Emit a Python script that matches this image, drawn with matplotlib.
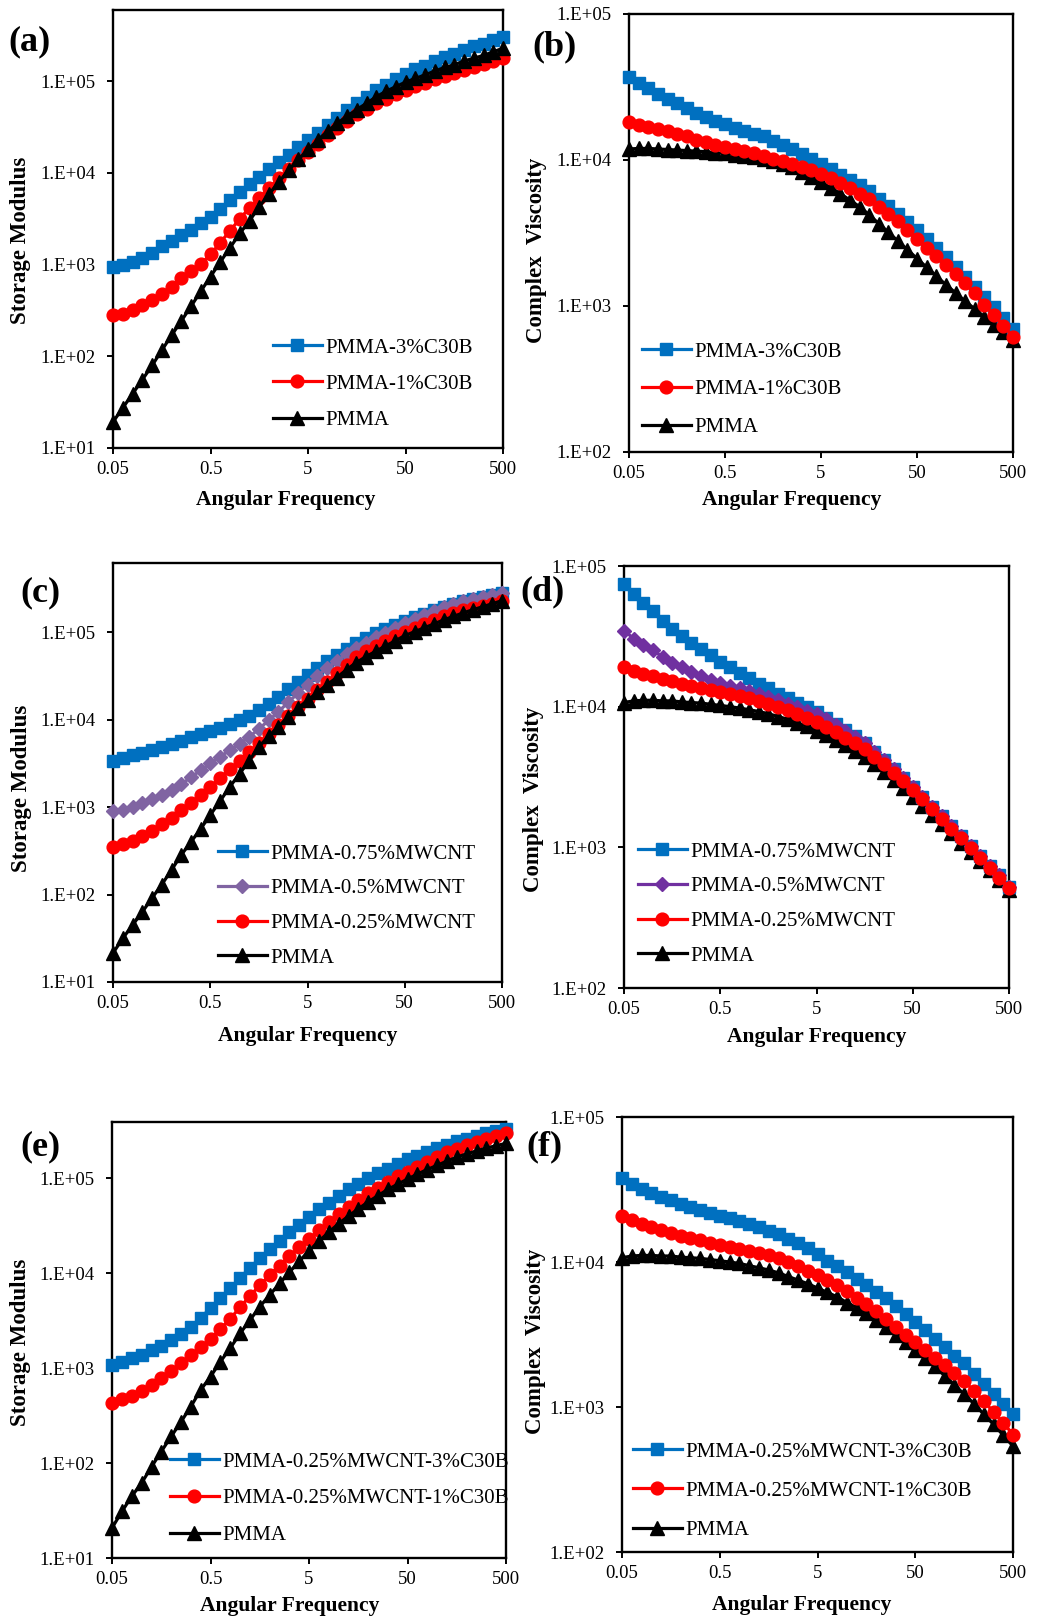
import numpy as np
import matplotlib
matplotlib.use("Agg")
import matplotlib.pyplot as plt
from matplotlib.ticker import FixedLocator, FuncFormatter, NullLocator

plt.rcParams['font.family'] = 'Liberation Serif'

# angular frequency grid (rad/s), 10 points per decade
freq = [0.05, 0.0631, 0.0794, 0.1, 0.126, 0.158, 0.2, 0.251, 0.316, 0.398,
        0.501, 0.631, 0.794, 1.0, 1.26, 1.58, 2.0, 2.51, 3.16, 3.98,
        5.01, 6.31, 7.94, 10.0, 12.6, 15.8, 20.0, 25.1, 31.6, 39.8,
        50.1, 63.1, 79.4, 100, 126, 158, 200, 251, 316, 398, 500]

# (a) storage modulus, clay
a_c30b3 = [940, 1000, 1070, 1170, 1350, 1580, 1820, 2090, 2400, 2820, 3310, 4070, 5010, 6170, 7590, 9120,
           1.10e4, 1.32e4, 1.58e4, 1.91e4, 2.29e4, 2.75e4, 3.31e4, 3.98e4, 4.79e4, 5.75e4, 6.76e4, 7.94e4,
           9.12e4, 1.05e5, 1.20e5, 1.35e5, 1.48e5, 1.66e5, 1.82e5, 2.00e5, 2.19e5, 2.40e5, 2.57e5, 2.82e5, 3.02e5]
a_c30b1 = [280, 292, 316, 359, 407, 479, 575, 708, 851, 1020, 1290, 1740, 2340, 3160, 4170, 5370, 6920, 8710,
           1.10e4, 1.38e4, 1.70e4, 2.09e4, 2.57e4, 3.09e4, 3.72e4, 4.37e4, 5.01e4, 5.75e4, 6.46e4, 7.24e4,
           8.04e4, 8.81e4, 9.66e4, 1.05e5, 1.14e5, 1.23e5, 1.32e5, 1.41e5, 1.53e5, 1.66e5, 1.80e5]
a_pmma = [19.2, 27.5, 38.9, 55.6, 79.4, 116, 170, 243, 351, 513, 741, 1070, 1530, 2190, 3020, 4270, 5890, 7940,
          1.07e4, 1.40e4, 1.80e4, 2.29e4, 2.85e4, 3.47e4, 4.17e4, 4.90e4, 5.75e4, 6.76e4, 7.76e4, 8.71e4,
          9.77e4, 1.07e5, 1.17e5, 1.29e5, 1.41e5, 1.51e5, 1.66e5, 1.78e5, 1.91e5, 2.09e5, 2.29e5]

# (b) complex viscosity, clay
b_c30b3 = [3.68e4, 3.35e4, 3.09e4, 2.85e4, 2.63e4, 2.45e4, 2.26e4, 2.11e4, 1.97e4, 1.86e4, 1.76e4, 1.66e4,
           1.58e4, 1.51e4, 1.45e4, 1.36e4, 1.27e4, 1.19e4, 1.10e4, 1.01e4, 9330, 8610, 7940, 7330, 6760, 6100,
           5430, 4840, 4270, 3760, 3310, 2880, 2510, 2160, 1860, 1580, 1350, 1150, 977, 822, 692]
b_c30b1 = [1.81e4, 1.74e4, 1.68e4, 1.62e4, 1.57e4, 1.51e4, 1.45e4, 1.38e4, 1.33e4, 1.27e4, 1.23e4, 1.19e4,
           1.15e4, 1.11e4, 1.07e4, 1.02e4, 9770, 9330, 8910, 8510, 8040, 7500, 7000, 6460, 5890, 5370, 4790,
           4270, 3800, 3310, 2880, 2510, 2190, 1910, 1660, 1430, 1220, 1020, 871, 733, 617]
b_pmma = [1.19e4, 1.20e4, 1.20e4, 1.19e4, 1.18e4, 1.17e4, 1.16e4, 1.15e4, 1.14e4, 1.12e4, 1.11e4, 1.09e4,
          1.07e4, 1.05e4, 1.02e4, 9890, 9440, 8910, 8320, 7670, 7080, 6460, 5890, 5310, 4790, 4220, 3670,
          3200, 2790, 2430, 2110, 1840, 1600, 1400, 1230, 1080, 955, 841, 741, 661, 589]

# (c) storage modulus, MWCNT
c_mw075 = [3390, 3630, 3890, 4170, 4520, 4900, 5310, 5750, 6240, 6760, 7330, 8040, 8810, 9770, 1.10e4, 1.27e4,
           1.51e4, 1.82e4, 2.21e4, 2.69e4, 3.24e4, 3.89e4, 4.62e4, 5.50e4, 6.46e4, 7.41e4, 8.51e4, 9.66e4,
           1.08e5, 1.22e5, 1.35e5, 1.48e5, 1.62e5, 1.78e5, 1.95e5, 2.11e5, 2.26e5, 2.40e5, 2.54e5, 2.66e5, 2.79e5]
c_mw05 = [908, 933, 1000, 1100, 1230, 1380, 1570, 1820, 2190, 2630, 3160, 3760, 4470, 5310, 6310, 7850, 9770,
          1.23e4, 1.57e4, 2.00e4, 2.51e4, 3.16e4, 3.89e4, 4.68e4, 5.56e4, 6.53e4, 7.59e4, 8.71e4, 9.89e4,
          1.12e5, 1.26e5, 1.41e5, 1.57e5, 1.74e5, 1.93e5, 2.11e5, 2.26e5, 2.40e5, 2.54e5, 2.66e5, 2.79e5]
c_mw025 = [353, 378, 413, 468, 537, 640, 759, 923, 1120, 1380, 1700, 2140, 2690, 3390, 4270, 5370, 6840, 8610,
           1.10e4, 1.38e4, 1.74e4, 2.16e4, 2.69e4, 3.39e4, 4.22e4, 5.19e4, 6.03e4, 6.92e4, 7.85e4, 8.91e4,
           1.00e5, 1.11e5, 1.23e5, 1.36e5, 1.51e5, 1.66e5, 1.78e5, 1.88e5, 2.00e5, 2.11e5, 2.24e5]
c_pmma = [21.4, 31.6, 44.7, 63.1, 91.2, 129, 191, 282, 398, 562, 813, 1170, 1700, 2400, 3390, 4900, 6460, 8320,
          1.07e4, 1.35e4, 1.66e4, 2.04e4, 2.51e4, 3.02e4, 3.72e4, 4.47e4, 5.25e4, 6.03e4, 6.92e4, 7.94e4,
          9.12e4, 1.01e5, 1.12e5, 1.24e5, 1.38e5, 1.51e5, 1.66e5, 1.80e5, 1.95e5, 2.11e5, 2.29e5]

# (d) complex viscosity, MWCNT
d_mw075 = [7.50e4, 6.31e4, 5.50e4, 4.79e4, 4.07e4, 3.55e4, 3.16e4, 2.82e4, 2.57e4, 2.32e4, 2.09e4, 1.91e4,
           1.74e4, 1.60e4, 1.46e4, 1.35e4, 1.24e4, 1.15e4, 1.07e4, 9890, 9120, 8320, 7590, 6840, 6170, 5500,
           4790, 4170, 3630, 3130, 2690, 2290, 1950, 1660, 1410, 1200, 1020, 871, 741, 631, 520]
d_mw05 = [3.47e4, 3.05e4, 2.74e4, 2.51e4, 2.26e4, 2.04e4, 1.92e4, 1.77e4, 1.65e4, 1.56e4, 1.48e4, 1.41e4,
          1.35e4, 1.29e4, 1.23e4, 1.17e4, 1.11e4, 1.05e4, 9890, 9330, 8810, 8130, 7410, 6760, 6100, 5500,
          4790, 4170, 3630, 3130, 2690, 2290, 1950, 1660, 1410, 1200, 1020, 871, 741, 631, 520]
d_mw025 = [1.92e4, 1.80e4, 1.72e4, 1.64e4, 1.57e4, 1.51e4, 1.46e4, 1.41e4, 1.36e4, 1.32e4, 1.27e4, 1.23e4,
           1.19e4, 1.15e4, 1.10e4, 1.05e4, 1.00e4, 9440, 8910, 8320, 7760, 7160, 6610, 6030, 5500, 5010,
           4420, 3890, 3390, 2950, 2570, 2190, 1860, 1600, 1360, 1160, 989, 841, 716, 610, 510]
d_pmma = [1.07e4, 1.10e4, 1.11e4, 1.11e4, 1.10e4, 1.10e4, 1.08e4, 1.07e4, 1.06e4, 1.04e4, 1.02e4, 1.00e4,
          9770, 9510, 9230, 8910, 8510, 8130, 7670, 7240, 6760, 6240, 5750, 5310, 4840, 4420, 3890, 3430,
          3020, 2630, 2290, 1970, 1700, 1460, 1260, 1070, 923, 794, 692, 590, 500]

# (e) storage modulus, hybrid
e_mix3 = [1070, 1170, 1260, 1380, 1530, 1720, 1970, 2290, 2720, 3390, 4270, 5430, 6920, 8910, 1.14e4, 1.43e4,
          1.78e4, 2.19e4, 2.69e4, 3.24e4, 3.89e4, 4.68e4, 5.50e4, 6.46e4, 7.59e4, 8.71e4, 1.00e5, 1.12e5,
          1.26e5, 1.41e5, 1.57e5, 1.72e5, 1.88e5, 2.07e5, 2.24e5, 2.43e5, 2.60e5, 2.79e5, 2.95e5, 3.13e5, 3.31e5]
e_mix1 = [427, 468, 508, 575, 661, 776, 933, 1120, 1360, 1660, 2040, 2570, 3310, 4370, 5750, 7410, 9550,
          1.20e4, 1.51e4, 1.86e4, 2.29e4, 2.82e4, 3.47e4, 4.17e4, 5.01e4, 5.89e4, 6.92e4, 7.94e4, 9.12e4,
          1.04e5, 1.17e5, 1.32e5, 1.48e5, 1.66e5, 1.86e5, 2.04e5, 2.21e5, 2.40e5, 2.57e5, 2.75e5, 2.95e5]
e_pmma = [20.7, 30.9, 44.7, 61.7, 91.2, 132, 191, 272, 393, 589, 813, 1170, 1620, 2320, 3200, 4420, 5890, 7760,
          1.02e4, 1.33e4, 1.72e4, 2.16e4, 2.69e4, 3.31e4, 3.98e4, 4.73e4, 5.62e4, 6.53e4, 7.59e4, 8.61e4,
          9.77e4, 1.10e5, 1.23e5, 1.36e5, 1.51e5, 1.66e5, 1.80e5, 1.93e5, 2.07e5, 2.19e5, 2.32e5]

# (f) complex viscosity, hybrid
f_mix3 = [3.78e4, 3.47e4, 3.20e4, 2.99e4, 2.82e4, 2.66e4, 2.51e4, 2.40e4, 2.29e4, 2.19e4, 2.09e4, 2.00e4,
          1.91e4, 1.82e4, 1.74e4, 1.64e4, 1.55e4, 1.45e4, 1.35e4, 1.24e4, 1.14e4, 1.02e4, 9330, 8510, 7670,
          6920, 6240, 5620, 4960, 4370, 3850, 3390, 2950, 2600, 2260, 2000, 1700, 1450, 1230, 1050, 891]
f_mix1 = [2.07e4, 1.95e4, 1.84e4, 1.74e4, 1.66e4, 1.58e4, 1.51e4, 1.46e4, 1.41e4, 1.36e4, 1.32e4, 1.27e4,
          1.23e4, 1.19e4, 1.16e4, 1.11e4, 1.06e4, 1.00e4, 9330, 8710, 8130, 7500, 6920, 6310, 5690, 5130,
          4570, 4070, 3590, 3160, 2820, 2480, 2190, 1950, 1720, 1510, 1290, 1100, 923, 776, 646]
f_pmma = [1.07e4, 1.10e4, 1.11e4, 1.11e4, 1.10e4, 1.10e4, 1.08e4, 1.07e4, 1.06e4, 1.04e4, 1.02e4, 1.00e4,
          9770, 9440, 9120, 8810, 8410, 7940, 7500, 7080, 6610, 6170, 5750, 5250, 4840, 4420, 3980, 3550,
          3160, 2820, 2480, 2190, 1910, 1640, 1410, 1230, 1050, 891, 759, 638, 537]

xticks = [0.05, 0.5, 5, 50, 500]
xticklabels = ['0.05', '0.5', '5', '50', '500']

BLUE, RED, BLACK = '#0070C0', '#FF0000', '#000000'
STY = {
    'blue': dict(color=BLUE, marker='s', ms=8.6),
    'red': dict(color=RED, marker='o', ms=9.2),
    'black': dict(color=BLACK, marker='^', ms=10.2),
    'purple_c': dict(color='#8064A2', marker='D', ms=7.2),
    'purple_d': dict(color='#7030A0', marker='D', ms=7.2),
}

W, H = 1038, 1619
fig = plt.figure(figsize=(W / 100, H / 100), dpi=100)
fig.patch.set_facecolor('white')


def make_axes(l, t, r, b):
    return fig.add_axes([l / W, 1 - b / H, (r - l) / W, (b - t) / H])


def dec_fmt(v, pos):
    return "1.E+%02d" % int(round(np.log10(v)))


def style_axes(ax, ylim, xlab_xy, ylab, ylab_xy):
    ax.set_xscale('log')
    ax.set_yscale('log')
    ax.set_xlim(0.05, 500)
    ax.set_ylim(*ylim)
    ax.xaxis.set_major_locator(FixedLocator(xticks))
    ax.set_xticklabels(xticklabels)
    ax.xaxis.set_minor_locator(NullLocator())
    lo, hi = int(np.ceil(np.log10(ylim[0]) - 1e-6)), int(np.floor(np.log10(ylim[1]) + 1e-6))
    ax.yaxis.set_major_locator(FixedLocator([10.0 ** k for k in range(lo, hi + 1)]))
    ax.yaxis.set_major_formatter(FuncFormatter(dec_fmt))
    ax.yaxis.set_minor_locator(NullLocator())
    ax.tick_params(axis='both', direction='out', length=4, width=1.4, labelsize=13.5, colors='black')
    ax.tick_params(axis='x', pad=5)
    ax.tick_params(axis='y', pad=8.5)
    for s in ax.spines.values():
        s.set_linewidth(1.7)
        s.set_color('black')
    ax.set_xlabel('Angular Frequency', fontsize=15.5, fontweight='bold')
    ax.xaxis.set_label_coords(*xlab_xy)
    ax.xaxis.label.set_va('center')
    ax.set_ylabel(ylab, fontsize=16.5, fontweight='bold')
    ax.yaxis.set_label_coords(*ylab_xy)
    ax.yaxis.label.set_va('center')
    ax.yaxis.label.set_ha('center')


def draw(ax, series, zorders=None):
    handles = []
    for i, (vals, label, key) in enumerate(series):
        z = 3 + i if zorders is None else zorders[i]
        h, = ax.plot(freq, vals, lw=2.3, label=label, zorder=z, clip_on=False, **STY[key])
        handles.append(h)
    return handles


def add_legend(ax, handles, x_px, y_px, spacing):
    fs = 15
    fs_px = fs * 100 / 72
    leg = ax.legend(handles=handles, loc='upper left',
                    bbox_to_anchor=(x_px / W, 1 - (y_px - 0.48 * fs_px) / H),
                    bbox_transform=fig.transFigure, frameon=False, fontsize=fs,
                    borderpad=0, borderaxespad=0, handlelength=2.35, handletextpad=0.15,
                    labelspacing=(spacing - 0.955 * fs_px) / fs_px, numpoints=1)
    return leg


def panel_label(txt, x, y):
    fig.text(x / W, 1 - y / H, txt, fontsize=26, fontweight='bold', ha='center', va='center')


# (a)
ax = make_axes(113, 10, 503, 448)
hs = draw(ax, [(a_c30b3, 'PMMA-3%C30B', 'blue'), (a_c30b1, 'PMMA-1%C30B', 'red'), (a_pmma, 'PMMA', 'black')])
style_axes(ax, (10, 10 ** 5.776), (0.444, -0.119), 'Storage Modulus', (-0.238, 0.475))
add_legend(ax, hs, 273, 348, 36.5)
panel_label('(a)', 30, 42)

# (b)
ax = make_axes(629, 14, 1013, 452)
hs = draw(ax, [(b_c30b3, 'PMMA-3%C30B', 'blue'), (b_c30b1, 'PMMA-1%C30B', 'red'), (b_pmma, 'PMMA', 'black')],
          zorders=[4, 5, 3])
style_axes(ax, (100, 1e5), (0.424, -0.110), 'Complex  Viscosity', (-0.242, 0.46))
add_legend(ax, hs, 642, 352, 38)
panel_label('(b)', 555, 47)

# (c)
ax = make_axes(113, 563, 502, 982)
hs = draw(ax, [(c_mw075, 'PMMA-0.75%MWCNT', 'blue'), (c_mw05, 'PMMA-0.5%MWCNT', 'purple_c'),
               (c_mw025, 'PMMA-0.25%MWCNT', 'red'), (c_pmma, 'PMMA', 'black')])
style_axes(ax, (10, 10 ** 5.79), (0.50, -0.129), 'Storage Modulus', (-0.236, 0.463))
add_legend(ax, hs, 218, 854, 35)
panel_label('(c)', 40, 593)

# (d)
ax = make_axes(624, 566, 1009, 988)
hs = draw(ax, [(d_mw075, 'PMMA-0.75%MWCNT', 'blue'), (d_mw05, 'PMMA-0.5%MWCNT', 'purple_d'),
               (d_mw025, 'PMMA-0.25%MWCNT', 'red'), (d_pmma, 'PMMA', 'black')],
          zorders=[4, 5, 6, 3])
style_axes(ax, (100, 1e5), (0.50, -0.116), 'Complex  Viscosity', (-0.234, 0.448))
add_legend(ax, hs, 638, 852, 35)
panel_label('(d)', 543, 592)

# (e)
ax = make_axes(112, 1122, 506, 1558)
hs = draw(ax, [(e_mix3, 'PMMA-0.25%MWCNT-3%C30B', 'blue'), (e_mix1, 'PMMA-0.25%MWCNT-1%C30B', 'red'),
               (e_pmma, 'PMMA', 'black')])
style_axes(ax, (10, 10 ** 5.59), (0.45, -0.110), 'Storage Modulus', (-0.231, 0.495))
add_legend(ax, hs, 170, 1462, 37)
panel_label('(e)', 40, 1147)

# (f)
ax = make_axes(622, 1117, 1013, 1552)
hs = draw(ax, [(f_mix3, 'PMMA-0.25%MWCNT-3%C30B', 'blue'), (f_mix1, 'PMMA-0.25%MWCNT-1%C30B', 'red'),
               (f_pmma, 'PMMA', 'black')], zorders=[4, 5, 3])
style_axes(ax, (100, 1e5), (0.46, -0.122), 'Complex  Viscosity', (-0.22, 0.485))
add_legend(ax, hs, 633, 1452, 39.5)
panel_label('(f)', 544, 1147)

fig.savefig('out.png', dpi=100, facecolor='white')
